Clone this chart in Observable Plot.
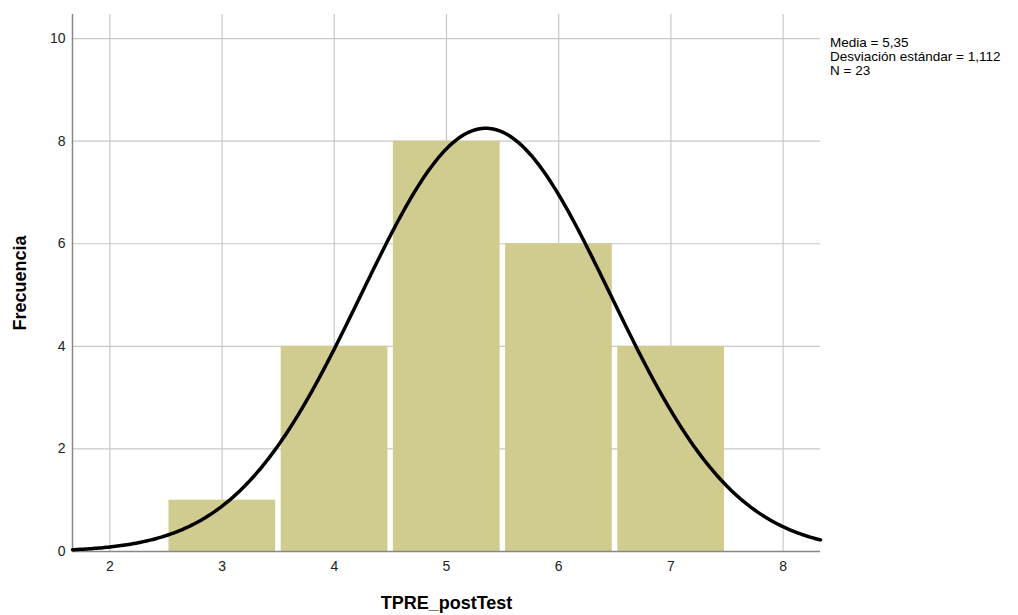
<!DOCTYPE html>
<html>
<head>
<meta charset="utf-8">
<script src="https://cdn.jsdelivr.net/npm/d3@7"></script>
<script src="https://cdn.jsdelivr.net/npm/@observablehq/plot@0.6"></script>
<style>
  body { margin: 0; background: #fff; font-family: "Liberation Sans", Arial, sans-serif; }
  #wrap { position: relative; width: 1018px; height: 615px; }
  #stats { position: absolute; left: 830px; top: 36px; font-size: 13.5px; line-height: 14px; color: #000; }
  #stats div { height: 14px; line-height: 14px; }
</style>
</head>
<body>
<div id="wrap">
  <div id="chart"></div>
  <div id="stats"></div>
</div>
<script>
// Histogram bins (centers) and frequencies
const binCenters = [3, 4, 5, 6, 7];
const frequencies = [1, 4, 8, 6, 4];
const binWidth = 1;

// Summary statistics shown in the chart
const media = 5.35;
const desviacion = 1.112;
const n = 23;

const xTicks = [2, 3, 4, 5, 6, 7, 8];
const yTicks = [0, 2, 4, 6, 8, 10];
const xDomain = [1.667, 8.333];
const yDomain = [0, 10.47];

const bars = binCenters.map((c, i) => ({x1: c - binWidth / 2, x2: c + binWidth / 2, y: frequencies[i]}));

// Fitted normal curve scaled to counts: N * binWidth * pdf(x)
const curve = d3.range(0, 401).map(i => {
  const x = xDomain[0] + (xDomain[1] - xDomain[0]) * i / 400;
  const z = (x - media) / desviacion;
  return {x, y: n * binWidth * Math.exp(-0.5 * z * z) / (desviacion * Math.sqrt(2 * Math.PI))};
});

const chart = Plot.plot({
  width: 1018,
  height: 615,
  marginLeft: 72,
  marginRight: 198,
  marginTop: 14,
  marginBottom: 64,
  style: {fontFamily: "'Liberation Sans', Arial, sans-serif", fontSize: "14px", color: "#222", background: "#fff"},
  x: {domain: xDomain, ticks: xTicks, tickSize: 0, tickPadding: 10, label: null, tickFormat: d => d},
  y: {domain: yDomain, ticks: yTicks, tickSize: 0, tickPadding: 7, label: null, tickFormat: d => d},
  marks: [
    Plot.ruleX(xTicks, {stroke: "#c8c8c8", strokeWidth: 1.2}),
    Plot.ruleY(yTicks, {stroke: "#c8c8c8", strokeWidth: 1.2}),
    Plot.rectY(bars, {x1: "x1", x2: "x2", y: "y", fill: "#d0cb8f", insetLeft: 3, insetRight: 2.5}),
    Plot.ruleY([0], {stroke: "#888", strokeWidth: 1.5}),
    Plot.ruleX([xDomain[0]], {stroke: "#888", strokeWidth: 1.5}),
    Plot.line(curve, {x: "x", y: "y", stroke: "#000", strokeWidth: 3.5, curve: "linear"}),
    Plot.axisX({ticks: xTicks, tickSize: 0, tickPadding: 10, label: null, tickFormat: d => d, fontSize: 14}),
    Plot.axisY({ticks: yTicks, tickSize: 0, tickPadding: 7, label: null, tickFormat: d => d, fontSize: 14}),
    Plot.text(["TPRE_postTest"], {frameAnchor: "bottom", dy: 57, fontSize: 18, fontWeight: "bold", fill: "#000"}),
    Plot.text(["Frecuencia"], {frameAnchor: "left", textAnchor: "middle", dx: -52, rotate: -90, fontSize: 18, fontWeight: "bold", fill: "#000"})
  ]
});
document.getElementById("chart").appendChild(chart);

const fmt = v => String(v).replace(".", ",");
const statsLines = [`Media = ${fmt(media)}`, `Desviación estándar = ${fmt(desviacion)}`, `N = ${n}`];
document.getElementById("stats").innerHTML = statsLines.map(s => `<div>${s}</div>`).join("");
</script>
</body>
</html>
